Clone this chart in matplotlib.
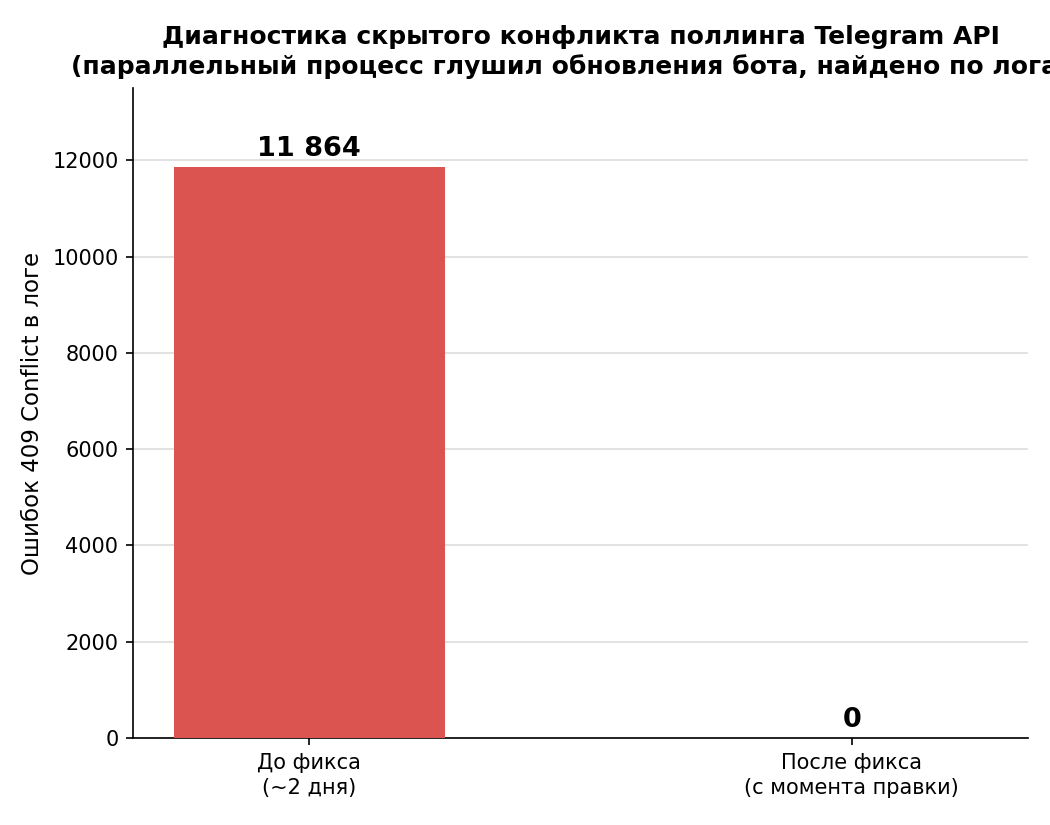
import matplotlib
matplotlib.use("Agg")
import matplotlib.pyplot as plt

categories = ["До фикса\n(~2 дня)", "После фикса\n(с момента правки)"]
errors = [11864, 0]
value_labels = ["11 864", "0"]

fig, ax = plt.subplots(figsize=(7, 5.5), dpi=150)
fig.subplots_adjust(left=0.1267, right=0.979, bottom=0.1055, top=0.8933)

x = range(len(categories))
bars = ax.bar(x, errors, width=0.5, color="#db544f", zorder=3)
for bar, lab in zip(bars, value_labels):
    ax.text(bar.get_x() + bar.get_width() / 2, bar.get_height() + 100, lab,
            ha="center", va="bottom", fontsize=13, fontweight="bold")

ax.set_xticks(list(x))
ax.set_xticklabels(categories, fontsize=10, linespacing=1.32)
ax.tick_params(axis="y", labelsize=10)
ax.set_ylim(0, 13500)
ax.set_ylabel("Ошибок 409 Conflict в логе", fontsize=11)
ax.set_title("Диагностика скрытого конфликта поллинга Telegram API\n"
             "(параллельный процесс глушил обновления бота, найдено по логам)",
             fontsize=12, fontweight="bold", linespacing=1.3, pad=6.5)
ax.yaxis.grid(True, color="#dddddd", linewidth=0.8, zorder=0)
ax.set_axisbelow(True)
ax.spines["top"].set_visible(False)
ax.spines["right"].set_visible(False)

fig.savefig("out.png", dpi=150)
